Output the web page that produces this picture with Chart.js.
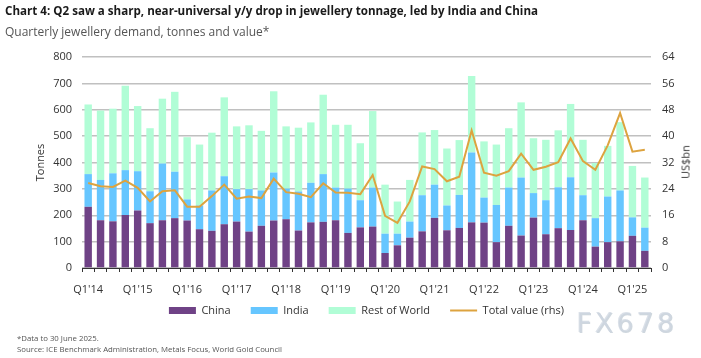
<!DOCTYPE html>
<html>
<head>
<meta charset="utf-8">
<script src="https://cdn.jsdelivr.net/npm/chart.js@4.4.1/dist/chart.umd.min.js"></script>
<style>
  html, body { margin: 0; padding: 0; background: #fff; }
  body { width: 701px; height: 358px; position: relative; overflow: hidden; font-family: "Open Sans", sans-serif; }
  #wrap { position: absolute; left: 0; top: 0; width: 701px; height: 358px; }
  .txt { position: absolute; white-space: nowrap; }
  #title { left: 5px; top: 3px; font-size: 11.6px; font-weight: 700; color: #1a1a1a; }
  #subtitle { left: 5px; top: 23px; font-size: 12px; color: #555; }
  #foot1 { left: 17px; top: 333px; font-size: 7.8px; color: #555; }
  #foot2 { left: 17px; top: 344px; font-size: 7.8px; color: #555; }
  #rtitle { left: 685px; top: 162px; font-size: 11px; color: #333; transform: translate(-50%, -50%) rotate(-90deg); }
  #wm { left: 576px; top: 307px; font-size: 27px; font-family: "DejaVu Sans", sans-serif; letter-spacing: 3px; color: rgba(205,214,224,0.75); text-shadow: 1px 1px 0 rgba(160,175,190,0.5); }
</style>
</head>
<body>
<div id="wrap"><canvas id="c" width="701" height="358"></canvas></div>
<div class="txt" id="title">Chart 4: Q2 saw a sharp, near-universal y/y drop in jewellery tonnage, led by India and China</div>
<div class="txt" id="subtitle">Quarterly jewellery demand, tonnes and value*</div>
<div class="txt" id="rtitle">US$bn</div>
<div class="txt" id="foot1">*Data to 30 June 2025.</div>
<div class="txt" id="foot2">Source: ICE Benchmark Administration, Metals Focus, World Gold Council</div>
<div class="txt" id="wm">FX678</div>
<script>
const quarters = [
  "Q1'14","Q2'14","Q3'14","Q4'14",
  "Q1'15","Q2'15","Q3'15","Q4'15",
  "Q1'16","Q2'16","Q3'16","Q4'16",
  "Q1'17","Q2'17","Q3'17","Q4'17",
  "Q1'18","Q2'18","Q3'18","Q4'18",
  "Q1'19","Q2'19","Q3'19","Q4'19",
  "Q1'20","Q2'20","Q3'20","Q4'20",
  "Q1'21","Q2'21","Q3'21","Q4'21",
  "Q1'22","Q2'22","Q3'22","Q4'22",
  "Q1'23","Q2'23","Q3'23","Q4'23",
  "Q1'24","Q2'24","Q3'24","Q4'24",
  "Q1'25","Q2'25"
];
const china = [232,181,177,201, 218,170,181,189, 180,147,141,166, 176,138,160,180, 185,142,173,175, 181,133,154,157, 57,86,115,139, 190,143,152,173, 172,98,160,123, 191,128,151,144, 181,81,98,101, 122,65];
const india = [124,153,182,170, 149,121,215,176, 80,90,153,182, 123,161,134,182, 116,148,150,181, 124,168,103,148, 73,44,61,137, 126,94,125,265, 95,141,145,220, 93,129,155,200, 95,108,173,193, 70,88];
const restOfWorld = [264,263,245,320, 247,239,246,303, 236,231,219,299, 238,242,226,308, 236,242,229,301, 238,242,216,290, 186,122,158,238, 207,216,208,290, 213,229,225,285, 208,229,216,278, 210,209,192,259, 195,190];
const totalValue = [25.8,24.8,24.6,26.5, 24.3,20.2,23.3,23.6, 18.6,18.6,21.8,25.3, 21.0,21.7,21.2,27.1, 23.0,22.5,21.5,25.7, 22.9,22.8,22.4,28.2, 15.8,13.7,20.2,30.8, 30.0,26.3,27.7,41.7, 28.9,28.0,29.4,34.7, 29.8,30.7,32.1,39.3, 32.4,29.8,37.2,47.0, 35.3,35.9];
const leftTicks = [0,100,200,300,400,500,600,700,800];
const rightTicks = [0,8,16,24,32,40,48,56,64];

const FONT = "'Open Sans', sans-serif";
const barCommon = { type: 'bar', order: 1, borderWidth: 0, barPercentage: 0.6, categoryPercentage: 1.0, yAxisID: 'y' };

const legendLift = {
  id: 'legendLift',
  afterLayout(chart) {
    const l = chart.legend;
    if (l) { l.top -= 13; l.bottom -= 13; }
  }
};

new Chart(document.getElementById('c'), {
  data: {
    labels: quarters,
    datasets: [
      Object.assign({ label: 'China', data: china, backgroundColor: '#6F4286', borderColor: '#6F4286' }, barCommon),
      Object.assign({ label: 'India', data: india, backgroundColor: '#66C6FF', borderColor: '#66C6FF' }, barCommon),
      Object.assign({ label: 'Rest of World', data: restOfWorld, backgroundColor: '#B1FDD6', borderColor: '#B1FDD6' }, barCommon),
      { type: 'line', label: 'Total value (rhs)', data: totalValue, yAxisID: 'y1', order: 0,
        borderColor: '#DDA33F', backgroundColor: '#DDA33F', borderWidth: 2, pointRadius: 0, tension: 0, fill: false }
    ]
  },
  plugins: [legendLift],
  options: {
    responsive: false,
    animation: false,
    devicePixelRatio: 1,
    layout: { padding: { left: 0, right: 0, top: 57, bottom: 19 } },
    plugins: {
      title: { display: false },
      tooltip: { enabled: false },
      legend: {
        position: 'bottom',
        align: 'center',
        fullSize: false,
        labels: {
          font: { family: FONT, size: 11 },
          color: '#333',
          usePointStyle: true,
          pointStyleWidth: 27,
          boxHeight: 7,
          padding: 20,
          sort: (a, b) => a.datasetIndex - b.datasetIndex,
          generateLabels: (chart) => {
            const items = Chart.defaults.plugins.legend.labels.generateLabels(chart);
            items.forEach(it => {
              const ds = chart.data.datasets[it.datasetIndex];
              if (ds.type === 'line') { it.pointStyle = 'line'; it.lineWidth = 2; it.strokeStyle = ds.borderColor; }
              else { it.pointStyle = 'rect'; it.lineWidth = 0; }
            });
            return items;
          }
        }
      }
    },
    scales: {
      x: {
        stacked: true,
        offset: true,
        grid: { display: true, offset: true, drawOnChartArea: false, drawTicks: true, tickLength: 4, color: '#333', lineWidth: 1 },
        border: { display: true, color: '#333', width: 1 },
        ticks: {
          autoSkip: false, maxRotation: 0, minRotation: 0, padding: 11,
          font: { family: FONT, size: 11 }, color: '#333',
          callback: function(v, i) { const l = quarters[i]; return l.startsWith('Q1') ? l : ''; }
        },
        afterFit: (s) => { s.height = 30; }
      },
      y: {
        stacked: true,
        position: 'left',
        min: 0, max: 800,
        afterBuildTicks: (s) => { s.ticks = leftTicks.map(v => ({ value: v })); },
        grid: { color: '#C0C0C0', lineWidth: 1.4, drawTicks: false },
        border: { display: false },
        ticks: { padding: 10, font: { family: FONT, size: 11 }, color: '#333' },
        title: { display: true, text: 'Tonnes', font: { family: FONT, size: 11 }, color: '#333', padding: { top: 34, bottom: 0 } },
        afterFit: (s) => { s.width = 82; }
      },
      y1: {
        position: 'right',
        min: 0, max: 64,
        afterBuildTicks: (s) => { s.ticks = rightTicks.map(v => ({ value: v })); },
        grid: { display: false, drawTicks: false },
        border: { display: false },
        ticks: { padding: 11, font: { family: FONT, size: 11 }, color: '#333' },
        afterFit: (s) => { s.width = 50; }
      }
    }
  }
});
</script>
</body>
</html>
